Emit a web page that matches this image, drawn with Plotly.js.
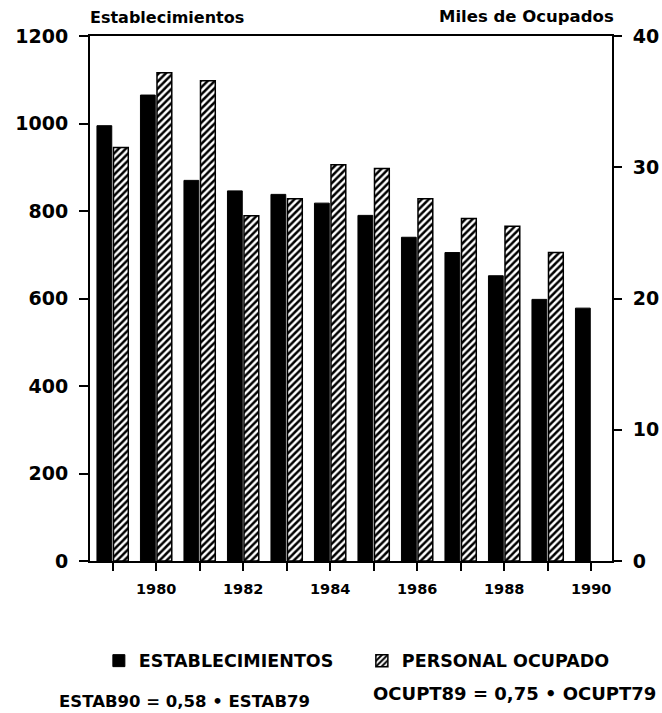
<!DOCTYPE html>
<html>
<head>
<meta charset="utf-8">
<script src="https://cdn.plot.ly/plotly-3.0.1.min.js"></script>
<style>
  html, body { margin: 0; padding: 0; background: #ffffff; }
  #chart { width: 662px; height: 713px; }
</style>
</head>
<body>
<div id="chart"></div>
<script>
// ---- data ----
const years = [1979, 1980, 1981, 1982, 1983, 1984, 1985, 1986, 1987, 1988, 1989, 1990];
const establecimientos = [995, 1065, 870, 846, 838, 818, 790, 740, 705, 652, 598, 578];
const personalOcupado = [31.5, 37.2, 36.6, 26.3, 27.6, 30.2, 29.9, 27.6, 26.1, 25.5, 23.5, null]; // miles
const xTickText = ['', '1980', '', '1982', '', '1984', '', '1986', '', '1988', '', '1990'];
const seriesNames = ['ESTABLECIMIENTOS', 'PERSONAL OCUPADO'];
const leftTitle = 'Establecimientos';
const rightTitle = 'Miles de Ocupados';
const note1 = 'ESTAB90 = 0,58 • ESTAB79';
const note2 = 'OCUPT89 = 0,75 • OCUPT79';

const FONT = 'DejaVu Sans, Liberation Sans, Arial, sans-serif';

const traces = [
  {
    type: 'bar',
    name: seriesNames[0],
    x: years,
    y: establecimientos,
    yaxis: 'y',
    width: 0.34,
    offset: -0.36,
    marker: { color: '#000000', line: { color: '#000000', width: 1 } },
    hoverinfo: 'x+y'
  },
  {
    type: 'bar',
    name: seriesNames[1],
    x: years,
    y: personalOcupado,
    yaxis: 'y2',
    width: 0.34,
    offset: 0.02,
    marker: {
      color: '#ffffff',
      line: { color: '#000000', width: 1.5 },
      pattern: { shape: '/', fgcolor: '#000000', bgcolor: '#ffffff', size: 5, solidity: 0.5, fillmode: 'replace' }
    },
    hoverinfo: 'x+y'
  }
];

const layout = {
  width: 662,
  height: 713,
  margin: { l: 90, r: 50, t: 36, b: 152 },
  paper_bgcolor: '#ffffff',
  plot_bgcolor: '#ffffff',
  font: { family: FONT, color: '#000000', size: 14 },
  showlegend: true,
  legend: {
    orientation: 'h',
    x: 0.017, xanchor: 'left',
    y: -0.19, yanchor: 'middle',
    font: { family: FONT, size: 17.5, color: '#000000', weight: 'bold' },
    itemwidth: 30,
    entrywidth: 218,
    traceorder: 'normal'
  },
  xaxis: {
    range: [1978.48, 1990.48],
    tickmode: 'array',
    tickvals: years,
    ticktext: xTickText,
    ticks: 'outside', ticklen: 8, tickwidth: 2, tickcolor: '#000000',
    showline: true, linewidth: 2, linecolor: '#000000', mirror: true,
    showgrid: false, zeroline: false,
    tickfont: { family: FONT, size: 14.5, weight: 'bold' },
    ticklabelstandoff: 6,
    fixedrange: true
  },
  yaxis: {
    range: [0, 1200],
    dtick: 200,
    ticks: 'outside', ticklen: 9, tickwidth: 2, tickcolor: '#000000',
    showline: true, linewidth: 2, linecolor: '#000000',
    showgrid: false, zeroline: false,
    tickfont: { family: FONT, size: 19, weight: 'bold' },
    ticklabelstandoff: 7,
    fixedrange: true
  },
  yaxis2: {
    overlaying: 'y',
    side: 'right',
    range: [0, 40],
    dtick: 10,
    ticks: 'outside', ticklen: 8, tickwidth: 2, tickcolor: '#000000',
    showline: true, linewidth: 2, linecolor: '#000000',
    showgrid: false, zeroline: false,
    tickfont: { family: FONT, size: 19, weight: 'bold' },
    ticklabelstandoff: 7,
    fixedrange: true
  },
  annotations: [
    { text: leftTitle, xref: 'paper', yref: 'paper', x: -0.004, y: 1, xanchor: 'left', yanchor: 'middle', yshift: 19,
      showarrow: false, font: { family: FONT, size: 16, weight: 'bold' } },
    { text: rightTitle, xref: 'paper', yref: 'paper', x: 1.008, y: 1, xanchor: 'right', yanchor: 'middle', yshift: 20,
      showarrow: false, font: { family: FONT, size: 16.5, weight: 'bold' } },
    { text: note1, xref: 'paper', yref: 'paper', x: -0.063, y: 0, xanchor: 'left', yanchor: 'middle', yshift: -140,
      showarrow: false, font: { family: FONT, size: 16.5, weight: 'bold' } },
    { text: note2, xref: 'paper', yref: 'paper', x: 1.088, y: 0, xanchor: 'right', yanchor: 'middle', yshift: -132,
      showarrow: false, font: { family: FONT, size: 18, weight: 'bold' } }
  ]
};

Plotly.newPlot('chart', traces, layout, { displayModeBar: false, staticPlot: true });
</script>
</body>
</html>
